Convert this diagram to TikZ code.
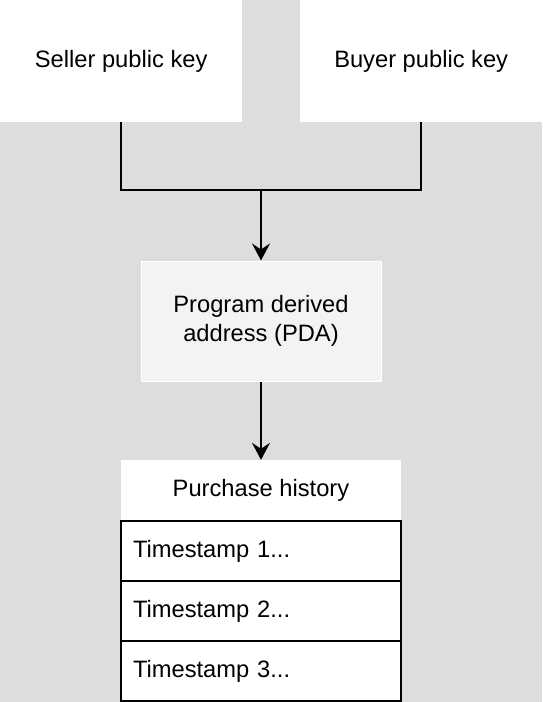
\documentclass[tikz,border=0pt]{standalone}
\usepackage{fontspec}
\setmainfont{Liberation Sans}
\usepackage{tikz}
\usetikzlibrary{arrows.meta}
\definecolor{bggray}{HTML}{DDDDDD}
\definecolor{pdafill}{HTML}{F3F3F3}
\tikzset{
  keybox/.style={fill=white, minimum width=242pt, minimum height=122pt, inner sep=0, anchor=north west},
  pdabox/.style={fill=pdafill, draw=white, line width=1pt, minimum width=240pt, minimum height=120pt, align=center},
  headbox/.style={fill=white, minimum width=280pt, minimum height=60pt, inner sep=0},
  rowbox/.style={fill=white, draw, line width=2pt, minimum height=60pt, inner xsep=12pt, text width=256pt, align=left, anchor=north},
  link/.style={line width=2pt},
  every node/.style={font=\fontsize{23.7}{28.4}\selectfont}
}

\begin{document}
\begin{tikzpicture}[x=1pt,y=-1pt]
  \fill[bggray] (0,0) rectangle (542,702);

  \node[keybox] at (0,0) (seller) {Seller public key};
  \node[keybox] at (300,0) (buyer) {Buyer public key};
  \coordinate (fork) at (261,190);

  \node[pdabox] at (261,321) (pda) {Program derived\\address (PDA)};

  \node[headbox] at (261,490) (hist) {Purchase history};
  \foreach \i in {1, 2, 3} {
    \node[rowbox] at (261, 460+60*\i) (row\i) {Timestamp \i...};
  }

  \draw[link] (seller.south) |- (fork) -| (buyer.south);
  \draw[link,-{Stealth[length=17pt,width=18pt,inset=6pt]}] (fork) -- (pda.north);
  \draw[link,-{Stealth[length=17pt,width=18pt,inset=6pt]}] (pda.south) -- (hist.north);
\end{tikzpicture}
\end{document}
